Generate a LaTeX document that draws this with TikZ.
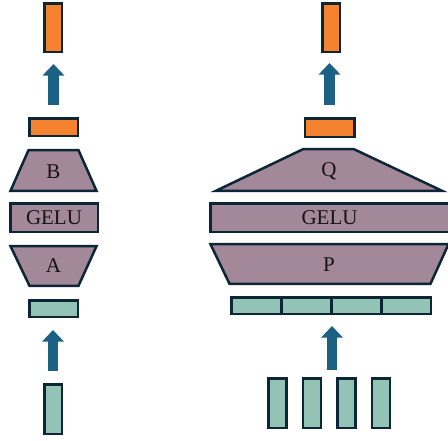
\documentclass[tikz,border=0pt]{standalone}
\usepackage{fontspec}
\setmainfont{Liberation Serif}
\usetikzlibrary{arrows.meta}
\definecolor{orangeC}{HTML}{F5822F}
\definecolor{mauveC}{HTML}{A38899}
\definecolor{tealC}{HTML}{93C3B5}
\definecolor{edgeC}{HTML}{0C2636}
\definecolor{arrowC}{HTML}{1B6184}
\definecolor{textC}{HTML}{141414}
\tikzset{
  box/.style={draw=edgeC, line width=2.5pt, inner sep=0pt, rectangle},
  obox/.style={box, fill=orangeC},
  tbox/.style={box, fill=tealC},
  mbox/.style={box, fill=mauveC, font=\fontsize{21}{21}\selectfont, text=textC},
  trap/.style={draw=edgeC, line width=2.5pt, fill=mauveC, line join=miter},
  lbl/.style={font=\fontsize{21}{21}\selectfont, text=textC, inner sep=0pt},
  bigarrow/.style={draw=arrowC, line width=10.5pt, line cap=butt,
    -{Triangle[width=21pt,length=11.5pt]}}
}
\begin{document}
\begin{tikzpicture}[x=1pt,y=-1pt]
\useasboundingbox (0,0) rectangle (448,440);
% ---------- left column ----------
\node[obox, minimum width=17.5pt, minimum height=48.5pt] (outL) at (53,27.5) {};
\node[obox, minimum width=48.5pt, minimum height=17.5pt] (hL) at (53.5,127) {};
\draw[trap] (28.5,150.2) -- (78.5,150.2) -- (96.5,190.8) -- (10.5,190.8) -- cycle;
\node[lbl] (lB) at (53.5,172) {B};
\node[mbox, minimum width=87.5pt, minimum height=28.5pt] (geluL) at (54,217.5) {GELU};
\draw[trap] (10.5,246.2) -- (96.5,246.2) -- (78.5,285.8) -- (29.5,285.8) -- cycle;
\node[lbl] (lA) at (53.5,266) {A};
\node[tbox, minimum width=48.5pt, minimum height=16.5pt] (tL) at (53.5,308.5) {};
\node[tbox, minimum width=17.5pt, minimum height=49.5pt] (inL) at (53,409) {};
\draw[bigarrow, shorten <=12pt, shorten >=12pt] (inL.north) -- (inL.north |- tL.south);
\draw[bigarrow, shorten <=12pt, shorten >=11pt] (hL.north) -- (hL.north |- outL.south);
% ---------- right column ----------
\node[obox, minimum width=17.5pt, minimum height=48.5pt] (outR) at (331,27.5) {};
\node[obox, minimum width=49.5pt, minimum height=18.5pt] (hR) at (329.5,127.5) {};
\draw[trap] (303,149.2) -- (354,149.2) -- (442,190.8) -- (216,190.8) -- cycle;
\node[lbl] (lQ) at (329,171) {Q};
\node[mbox, minimum width=238.5pt, minimum height=28.5pt] (geluR) at (329.5,217.5) {GELU};
\draw[trap] (210.5,244.2) -- (448.5,244.2) -- (430.5,283.8) -- (229.5,283.8) -- cycle;
\node[lbl] (lP) at (329,264.5) {P};
\node[tbox, minimum width=49.5pt, minimum height=16.5pt] (r1) at (256,305.5) {};
\node[tbox, minimum width=49.5pt, minimum height=16.5pt] (r2) at (306,305.5) {};
\node[tbox, minimum width=49.5pt, minimum height=16.5pt] (r3) at (356,305.5) {};
\node[tbox, minimum width=49.5pt, minimum height=16.5pt] (r4) at (406,305.5) {};
\node[tbox, minimum width=18pt, minimum height=49.5pt] (b1) at (277.5,403) {};
\node[tbox, minimum width=18pt, minimum height=49.5pt] (b2) at (312,403) {};
\node[tbox, minimum width=18pt, minimum height=49.5pt] (b3) at (346.5,403) {};
\node[tbox, minimum width=18pt, minimum height=49.5pt] (b4) at (381,403) {};
\coordinate (inR) at (r2.south east |- b2.north);
\draw[bigarrow, shorten <=7pt, shorten >=11pt] (inR) -- (r2.south east);
\draw[bigarrow, shorten <=12pt, shorten >=10pt] (hR.north) -- (hR.north |- outR.south);
\end{tikzpicture}
\end{document}
